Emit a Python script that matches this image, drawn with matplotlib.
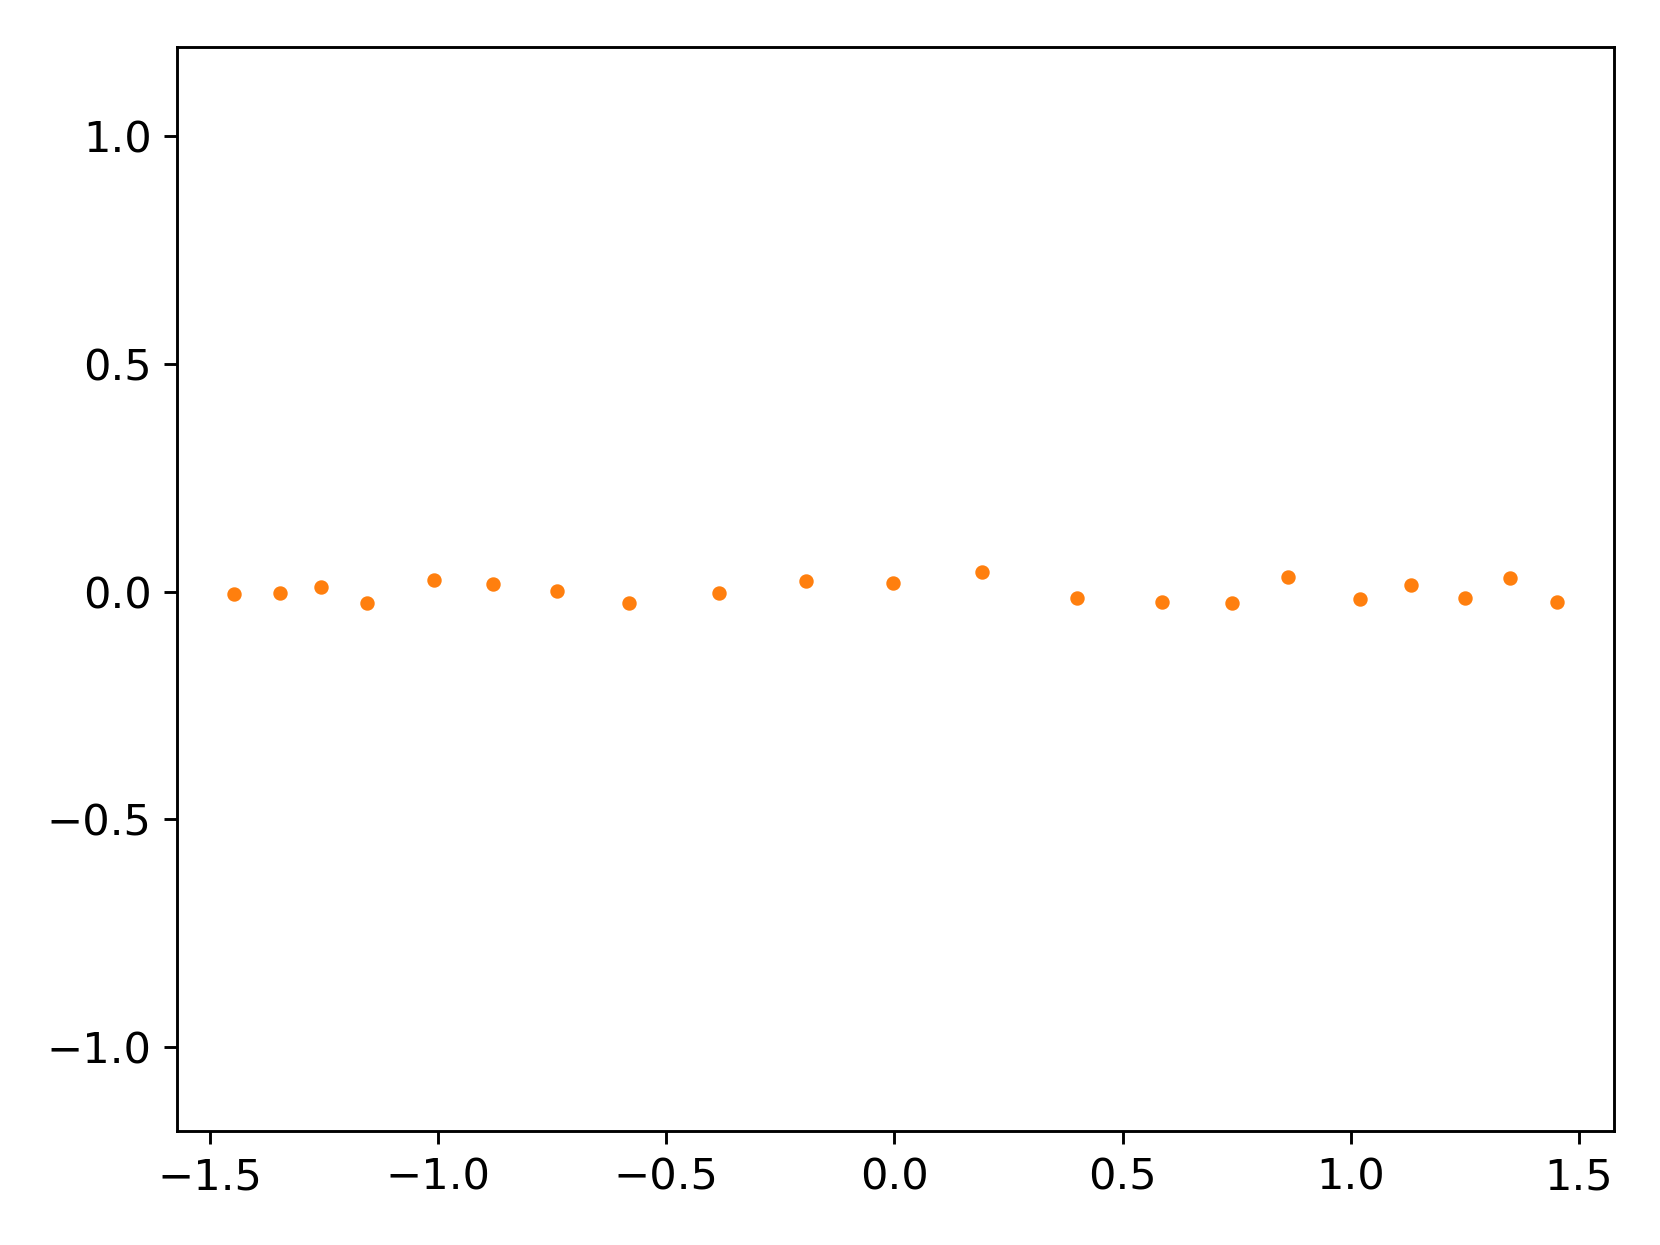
import matplotlib
matplotlib.use("Agg")
import matplotlib.pyplot as plt

# points
x_vals = [-1.448, -1.346, -1.258, -1.156, -1.010, -0.881, -0.739, -0.582,
          -0.384, -0.194, -0.004, 0.192, 0.399, 0.586, 0.739, 0.862,
          1.021, 1.133, 1.250, 1.349, 1.453]
y_vals = [-0.006, -0.004, 0.011, -0.026, 0.025, 0.017, 0.001, -0.024,
          -0.003, 0.024, 0.020, 0.042, -0.013, -0.023, -0.026, 0.032,
          -0.017, 0.014, -0.015, 0.030, -0.023]

fig = plt.figure(figsize=(6.4, 4.8), dpi=259.375)
ax = fig.add_subplot(111)
fig.subplots_adjust(left=0.1065, right=0.972, top=0.9625, bottom=0.0915)

ax.plot(x_vals, y_vals, '.', color='C1')

ax.set_xlim(-1.573, 1.576)
ax.set_ylim(-1.184, 1.196)
ax.set_xticks([-1.5, -1.0, -0.5, 0.0, 0.5, 1.0, 1.5])
ax.set_yticks([-1.0, -0.5, 0.0, 0.5, 1.0])
ax.tick_params(labelsize=12)

fig.savefig("out.png", dpi=259.375)
